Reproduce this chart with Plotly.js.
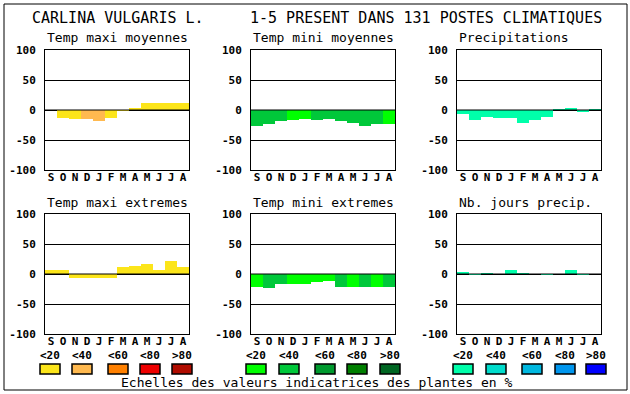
<!DOCTYPE html>
<html><head><meta charset="utf-8">
<script src="https://cdn.plot.ly/plotly-3.0.1.min.js"></script>
<style>body{margin:0;padding:0;background:#fff}#chart{width:630px;height:394px}</style>
</head><body><div id="chart"></div>
<script>
// ---- data ----
const months = ["S","O","N","D","J","F","M","A","M","J","J","A"];
const titles = ["Temp maxi moyennes","Temp mini moyennes","Precipitations","Temp maxi extremes","Temp mini extremes","Nb. jours precip."];
const scaleLabels = ["<20","<40","<60","<80",">80"];
const tempMaxColors = ["#FCE51A","#FFB94F","#FF8000","#EE0000","#B00C00"];
const tempMinColors = ["#00FF00","#00C83A","#009A2E","#007F00","#006622"];
const precipColors  = ["#00FFAA","#00DCCC","#00B8E0","#0096EE","#0000FF"];

const maxiMoyVals  = [0,-13,-15,-15,-18,-13,-2,3,12,11,12,12];
const maxiMoyCls   = [0,0,0,1,1,0,0,0,0,0,0,0];
const miniMoyVals  = [-26,-23,-18,-17,-15,-17,-15,-18,-21,-26,-23,-23];
const miniMoyCls   = [1,1,1,0,0,1,1,1,1,1,1,0];
const precipVals   = [-6,-17,-12,-13,-13,-22,-17,-12,2,3,-4,2];
const precipCls    = [0,0,0,0,0,0,0,0,0,0,0,0];
const maxiExtVals  = [7,6,-7,-7,-6,-7,11,14,16,7,21,12];
const maxiExtCls   = [0,0,0,0,0,0,0,0,0,0,0,0];
const miniExtVals  = [-21,-24,-17,-16,-17,-14,-12,-21,-22,-22,-22,-21];
const miniExtCls   = [0,1,1,0,0,0,0,1,0,1,0,1];
const joursVals    = [4,-2,2,0,6,2,0,-2,0,7,-2,0];
const joursCls     = [0,0,0,0,0,0,0,0,0,0,0,0];

// ---- layout helpers ----
const W = 630, H = 394;
const px = v => v / W;
const py = v => 1 - v / H;
const mono = "DejaVu Sans Mono, monospace";

const panels = [
  {vals: maxiMoyVals, cls: maxiMoyCls, pal: tempMaxColors, x0: 45, y0: 50},
  {vals: miniMoyVals, cls: miniMoyCls, pal: tempMinColors, x0: 251, y0: 50},
  {vals: precipVals,  cls: precipCls,  pal: precipColors,  x0: 457, y0: 50},
  {vals: maxiExtVals, cls: maxiExtCls, pal: tempMaxColors, x0: 45, y0: 214},
  {vals: miniExtVals, cls: miniExtCls, pal: tempMinColors, x0: 251, y0: 214},
  {vals: joursVals,   cls: joursCls,   pal: precipColors,  x0: 457, y0: 214}
];
const PW = 144, PH = 120;

const traces = [];
const layout = {
  width: W, height: H, margin: {l:0, r:0, t:0, b:0},
  paper_bgcolor: "#fff", plot_bgcolor: "#fff",
  showlegend: false, bargap: 0,
  annotations: [], shapes: []
};

panels.forEach((p, i) => {
  const n = i === 0 ? "" : String(i + 1);
  const xa = "x" + n, ya = "y" + n;
  traces.push({
    type: "bar",
    x: months.map((m, k) => k),
    y: p.vals,
    marker: {color: p.cls.map(c => p.pal[c]), line: {width: 0}},
    xaxis: xa, yaxis: ya, hoverinfo: "skip"
  });
  layout["xaxis" + n] = {
    domain: [px(p.x0), px(p.x0 + PW)], anchor: ya,
    range: [-0.5, 11.5], tickvals: months.map((m, k) => k), ticktext: months,
    showgrid: false, zeroline: false, showline: true, mirror: true,
    linecolor: "#000", linewidth: 1, ticks: "", ticklabelstandoff: -3,
    tickfont: {family: mono, size: 11, color: "#000", weight: "bold"}, fixedrange: true
  };
  layout["yaxis" + n] = {
    domain: [py(p.y0 + PH), py(p.y0)], anchor: xa,
    range: [-100, 100], tickvals: [-100, -50, 0, 50, 100], ticktext: ["-100","-50","0","50","100"],
    showgrid: true, gridcolor: "#000", gridwidth: 1, zeroline: false,
    showline: true, mirror: true, linecolor: "#000", linewidth: 1, ticks: "",
    ticklabelstandoff: 6,
    tickfont: {family: mono, size: 11, color: "#000", weight: "bold"}, fixedrange: true
  };
  // zero line drawn above bars
  layout.shapes.push({type: "line", xref: xa + " domain", yref: ya, x0: 0, x1: 1, y0: 0, y1: 0,
    line: {color: "#000", width: 1}, layer: "above"});
  layout.annotations.push({
    text: titles[i], xref: "paper", yref: "paper", x: px(p.x0), y: py(p.y0 - 12),
    xanchor: "left", yanchor: "middle", showarrow: false,
    font: {family: mono, size: 13, color: "#000"}
  });
});

// main title
layout.annotations.push({text: "CARLINA VULGARIS L.", xref: "paper", yref: "paper",
  x: px(30), y: py(18), xanchor: "left", yanchor: "middle", showarrow: false,
  font: {family: mono, size: 15, color: "#000"}});
layout.annotations.push({text: "1-5 PRESENT DANS 131 POSTES CLIMATIQUES", xref: "paper", yref: "paper",
  x: px(248), y: py(18), xanchor: "left", yanchor: "middle", showarrow: false,
  font: {family: mono, size: 15, color: "#000"}});

// colour scales
const groups = [
  {pal: tempMaxColors, lefts: [40, 72, 108, 140, 172]},
  {pal: tempMinColors, lefts: [246, 279, 315, 347, 380]},
  {pal: precipColors,  lefts: [453, 486, 522, 555, 586]}
];
const esc = s => s.replace("<", "&lt;").replace(">", "&gt;");
groups.forEach(g => {
  g.lefts.forEach((l, k) => {
    layout.shapes.push({type: "rect", xref: "paper", yref: "paper",
      x0: px(l), x1: px(l + 20), y0: py(374), y1: py(364),
      fillcolor: g.pal[k], line: {color: "#000", width: 1.5}, layer: "above"});
    layout.annotations.push({text: esc(scaleLabels[k]), xref: "paper", yref: "paper",
      x: px(l + 10), y: py(355), xanchor: "center", yanchor: "middle", showarrow: false,
      font: {family: mono, size: 11, color: "#000", weight: "bold"}});
  });
});
layout.annotations.push({text: "Echelles des valeurs indicatrices des plantes en %", xref: "paper", yref: "paper",
  x: px(317), y: py(382), xanchor: "center", yanchor: "middle", showarrow: false,
  font: {family: mono, size: 13, color: "#000"}});

// outer frame
layout.shapes.push({type: "rect", xref: "paper", yref: "paper",
  x0: px(4), x1: px(627), y0: py(390), y1: py(4), line: {color: "#000", width: 1}, fillcolor: "rgba(0,0,0,0)"});

Plotly.newPlot("chart", traces, layout, {staticPlot: true, displayModeBar: false});
</script>
</body></html>
